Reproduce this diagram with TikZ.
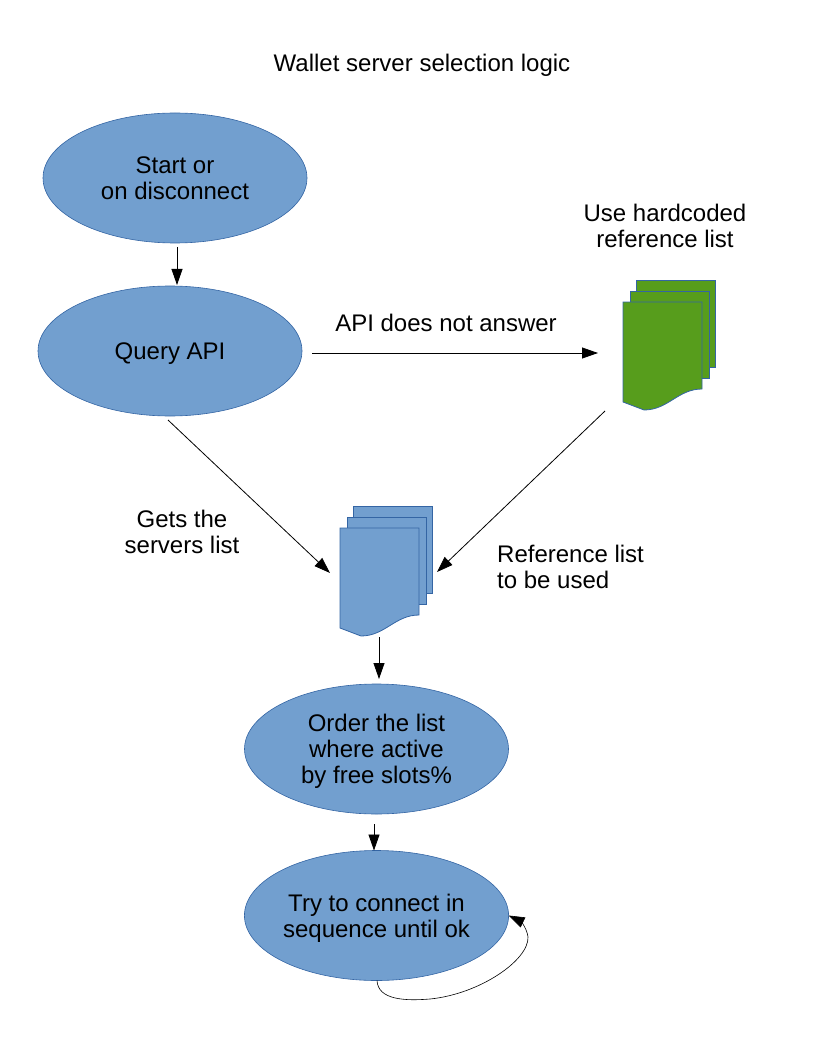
\documentclass[tikz,border=0pt]{standalone}
\usepackage{fontspec}
\setmainfont{Liberation Sans}
\usetikzlibrary{arrows.meta,shapes.geometric}
\definecolor{bluefill}{HTML}{729FCF}
\definecolor{blueline}{HTML}{3465A4}
\definecolor{greenfill}{HTML}{579D1C}
\tikzset{
  oval/.style={ellipse,draw=blueline,fill=bluefill,line width=0.6pt,minimum width=264pt,minimum height=130pt,inner sep=0pt,outer sep=0pt,align=center,text depth=0pt,font=\fontsize{24}{26}\selectfont},
  label/.style={inner sep=0pt,align=center,font=\fontsize{24}{26}\selectfont},
  arr/.style={draw=black,line width=0.8pt,-{Triangle[length=16pt,width=11pt]}},
  holder/.style={inner sep=0pt,outer sep=0pt,minimum width=92pt,minimum height=130pt},
  page/.style={draw=blueline,line width=0.8pt}
}
\newcommand{\stackdoc}[3]{%
  \begin{scope}[shift={(#1,#2)}]
    \fill[#3,page] (13,-22) -- (92,-22) -- (92,65) -- (13,65) -- cycle;
    \fill[#3,page] (7,-11) -- (86,-11) -- (86,76) -- (7,76) -- cycle;
    \fill[#3,page] (0,0) -- (79,0) -- (79,87) .. controls (55,87) and (45,108) .. (21,108) -- (0,100) -- cycle;
  \end{scope}}
\begin{document}
\begin{tikzpicture}[x=1pt,y=-1pt]
\useasboundingbox (0,0) rectangle (816,1056);
\node[label] (title) at (422,65) {Wallet server selection logic};
\node[oval] (start) at (175,178) {Start or\\on disconnect};
\node[oval] (query) at (170,351) {Query API};
\node[oval] (order) at (376.5,749) {Order the list\\where active\\by free slots\%};
\node[oval] (try) at (376.5,915.5) {Try to connect in\\sequence until ok};
\stackdoc{340}{528}{bluefill}
\stackdoc{623}{302}{greenfill}
\node[holder] (listdoc) at (386,571) {};
\node[holder] (refdoc) at (669,345.5) {};
\node[label] (lhard) at (665,226) {Use hardcoded\\reference list};
\node[label] (lapi) at (446,323) {API does not answer};
\node[label] (lgets) at (182,532) {Gets the\\servers list};
\node[label,align=left,anchor=west] (lref) at (497,566.5) {Reference list\\to be used};
\coordinate (qa) at (312,353);
\coordinate (qb) at (598,353);
\coordinate (qc) at (168,420);
\coordinate (lb) at (330,573);
\coordinate (rb) at (605,411);
\coordinate (lc) at (437,572);
\draw[arr] ([xshift=2pt,yshift=-4pt]start.south) -- ([xshift=7pt,yshift=1pt]query.north);
\draw[arr] (qa) -- (qb);
\draw[arr] (qc) -- (lb);
\draw[arr] (rb) -- (lc);
\draw[arr] ([xshift=-7pt,yshift=-1pt]listdoc.south) -- ([xshift=2.5pt,yshift=5pt]order.north);
\draw[arr] ([xshift=-2.5pt,yshift=-10pt]order.south) -- ([xshift=-2.5pt]try.north);
\draw[draw=black,line width=0.6pt,-{Triangle[length=16pt,width=11pt]}] ([xshift=0.5pt]try.south) .. controls (378,1000) and (405,1001) .. (430,999) .. controls (480,994) and (529,960) .. (528,937) .. controls (527,928) and (520,921) .. (try.east);
\end{tikzpicture}
\end{document}
